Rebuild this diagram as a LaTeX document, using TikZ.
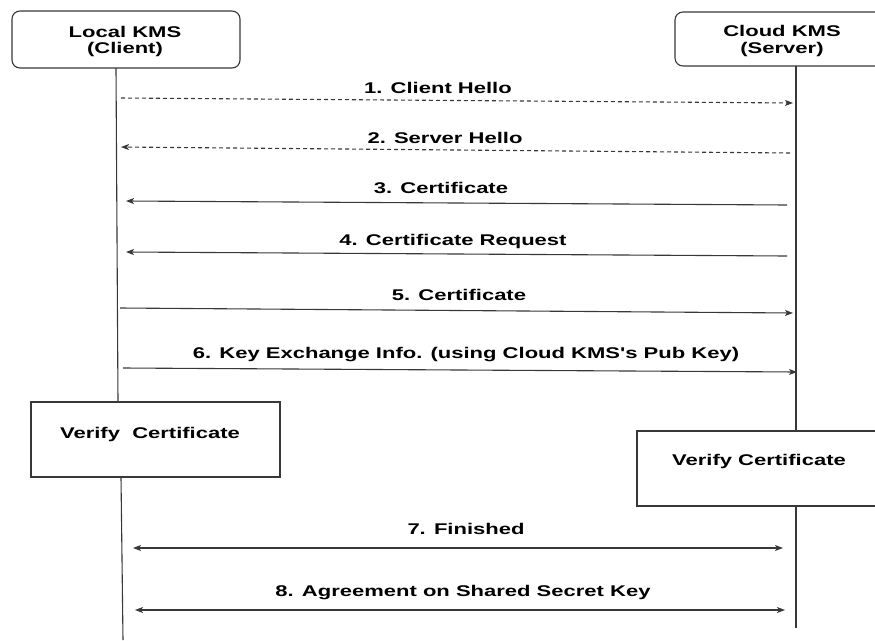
\documentclass[tikz,border=0pt]{standalone}
\usepackage{fontspec}
\usepackage{graphicx}
\setmainfont{Liberation Sans}
\usetikzlibrary{arrows.meta}
% horizontally widened bold lettering used throughout
\newcommand\widetext[1]{\scalebox{1.42}[1]{#1}}
\begin{document}
\begin{tikzpicture}[x=1pt,y=-1pt,
  ink/.style={draw=black!78, line width=1.1pt},
  msg/.style={ink, -{Stealth[length=8pt,width=6pt,inset=2pt]}},
  dashmsg/.style={msg, dash pattern=on 4pt off 3pt},
  bothmsg/.style={ink, {Stealth[length=8pt,width=6pt,inset=2pt]}-{Stealth[length=8pt,width=6pt,inset=2pt]}},
  lbl/.style={font=\bfseries\fontsize{15.5}{16}\selectfont, anchor=base, inner sep=0pt},
  actor/.style={ink, fill=white, rounded corners=8pt},
  actortext/.style={align=center, inner sep=0pt,
    font=\bfseries\fontsize{15.5}{16.5}\selectfont},
  procbox/.style={ink, fill=white}]

\useasboundingbox (0,0) rectangle (875,640);

% participants
\node[actor, minimum width=228pt, minimum height=57pt] (client) at (126,39.5) {};
\node[actortext] (clienttext) at (125,41.5) {\widetext{Local KMS}\\\widetext{(Client)}};
\node[actor, minimum width=214pt, minimum height=54pt] (server) at (782,39) {};
\node[actortext] (servertext) at (782,41) {\widetext{Cloud KMS}\\\widetext{(Server)}};

% local processing boxes
\node[procbox, minimum width=249pt, minimum height=75pt] (vc) at (155.5,439.5) {};
\node[lbl] (vctext) at (150,438.5) {\widetext{Verify\ \ Certificate}};
\node[procbox, minimum width=244pt, minimum height=75pt] (vs) at (759,468.5) {};
\node[lbl] (vstext) at (759,465.5) {\widetext{Verify Certificate}};

% lifeline points
\coordinate (cA) at (116,68);
\coordinate (cB) at (118,402);
\coordinate (cC) at (121,477);
\coordinate (cD) at (123,640);
\coordinate (sA) at (796,66);
\coordinate (sB) at (796,431);
\coordinate (sC) at (796,506);
\coordinate (sD) at (796,628);

\draw[ink] (cA) -- (cB);
\draw[ink] (cC) -- (cD);
\draw[ink] (sA) -- (sB);
\draw[ink] (sC) -- (sD);

% message end points
\coordinate (m1a) at (121,98);  \coordinate (m1b) at (793,103);
\coordinate (m2a) at (790,153); \coordinate (m2b) at (121,147);
\coordinate (m3a) at (787,205); \coordinate (m3b) at (126,201);
\coordinate (m4a) at (787,256); \coordinate (m4b) at (126,252);
\coordinate (m5a) at (120,308); \coordinate (m5b) at (793,313);
\coordinate (m6a) at (123,368); \coordinate (m6b) at (797,372);
\coordinate (m7a) at (133,548); \coordinate (m7b) at (783,548);
\coordinate (m8a) at (135,610); \coordinate (m8b) at (785,610);

\draw[dashmsg] (m1a) -- (m1b);
\draw[dashmsg] (m2a) -- (m2b);
\draw[msg] (m3a) -- (m3b);
\draw[msg] (m4a) -- (m4b);
\draw[msg] (m5a) -- (m5b);
\draw[msg] (m6a) -- (m6b);
\draw[bothmsg] (m7a) -- (m7b);
\draw[bothmsg] (m8a) -- (m8b);

% message labels
\node[lbl] (l1) at (438,93)  {\widetext{1. Client Hello}};
\node[lbl] (l2) at (445,143.5) {\widetext{2. Server Hello}};
\node[lbl] (l3) at (441,193.5) {\widetext{3. Certificate}};
\node[lbl] (l4) at (453,245.5) {\widetext{4. Certificate Request}};
\node[lbl] (l5) at (459,300.5) {\widetext{5. Certificate}};
\node[lbl] (l6) at (466,358.5) {\widetext{6. Key Exchange Info. (using Cloud KMS\textquotesingle s Pub Key)}};
\node[lbl] (l7) at (466,534.5) {\widetext{7. Finished}};
\node[lbl] (l8) at (463,596.5) {\widetext{8. Agreement on Shared Secret Key}};
\end{tikzpicture}
\end{document}
